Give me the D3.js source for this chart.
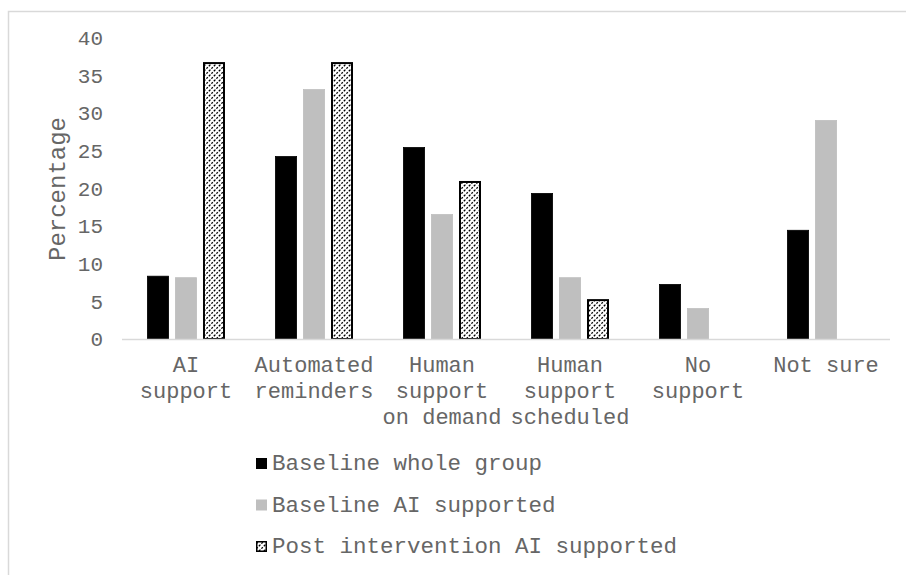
<!DOCTYPE html>
<html>
<head>
<meta charset="utf-8">
<script src="https://cdn.jsdelivr.net/npm/d3@7/dist/d3.min.js"></script>
<style>
  html, body { margin: 0; padding: 0; background: #fff; }
  svg { display: block; }
  text { font-family: "Courier New", "Liberation Mono", monospace; fill: #666666; }
</style>
</head>
<body>
<svg id="chart" width="906" height="575"></svg>
<script>
// Preferred type of support, by group (percent)
const categories = [
  ["AI", "support"],
  ["Automated", "reminders"],
  ["Human", "support", "on demand"],
  ["Human", "support", "scheduled"],
  ["No", "support"],
  ["Not sure"]
];
const seriesNames = ["Baseline whole group", "Baseline AI supported", "Post intervention AI supported"];
const baselineWhole = [8.4, 24.3, 25.5, 19.4, 7.3, 14.5];
const baselineAI = [8.2, 33.2, 16.6, 8.2, 4.1, 29.1];
const postAI = [36.8, 36.8, 21.0, 5.3, null, null];
const yTicks = [0, 5, 10, 15, 20, 25, 30, 35, 40];

const seriesValues = [baselineWhole, baselineAI, postAI];

const svg = d3.select("#chart");

// Chart frame
svg.append("rect")
  .attr("x", 8.5).attr("y", 11.5)
  .attr("width", 1000).attr("height", 1000)
  .attr("fill", "none").attr("stroke", "#d9d9d9").attr("stroke-width", 1.5);

// Dashed upward-diagonal hatch
const defs = svg.append("defs");
const pat = defs.append("pattern")
  .attr("id", "hatch")
  .attr("patternUnits", "userSpaceOnUse")
  .attr("width", 5).attr("height", 5);
pat.append("rect").attr("width", 5).attr("height", 5).attr("fill", "#fff");
pat.append("path")
  .attr("d", "M-1,6 L6,-1 M-1,1 L1,-1 M4,6 L6,4")
  .attr("stroke", "#000").attr("stroke-width", 1.3)
  .attr("stroke-dasharray", "2,1.4");

const plot = { left: 122, right: 890, top: 38, bottom: 339 };

const x0 = d3.scaleBand()
  .domain(d3.range(categories.length))
  .range([plot.left, plot.right])
  .padding(0);

const bw = x0.bandwidth();
const x1 = d3.scaleBand()
  .domain(d3.range(seriesNames.length))
  .range([bw * 25 / 128, bw * 103 / 128])
  .paddingInner(6 / 28)
  .paddingOuter(0);

const y = d3.scaleLinear().domain([0, 40]).range([plot.bottom, plot.top]);

const fills = ["#000000", "#bfbfbf", "url(#hatch)"];
const strokes = ["#000000", "#bfbfbf", "#000000"];
const strokeW = [0.8, 0.8, 2];

// Y axis labels
const yAxis = d3.axisLeft(y).tickValues(yTicks).tickSize(0).tickPadding(19);
const gy = svg.append("g").attr("transform", `translate(${plot.left},0)`).call(yAxis);
gy.select(".domain").remove();
gy.selectAll("text")
  .style("font-family", '"Courier New", "Liberation Mono", monospace')
  .style("font-size", "21px").attr("fill", "#666666");

// Bars
seriesValues.forEach((vals, s) => {
  svg.append("g").selectAll("rect")
    .data(vals.map((v, i) => ({ v, i })).filter(d => d.v !== null))
    .join("rect")
    .attr("x", d => x0(d.i) + x1(s) + strokeW[s] / 2)
    .attr("y", d => y(d.v) + strokeW[s] / 2)
    .attr("width", x1.bandwidth() - strokeW[s])
    .attr("height", d => y(0) - y(d.v) - strokeW[s] / 2)
    .attr("fill", fills[s])
    .attr("stroke", strokes[s])
    .attr("stroke-width", strokeW[s]);
});

// X axis line
svg.append("line")
  .attr("x1", plot.left).attr("x2", plot.right)
  .attr("y1", y(0) + 0.5).attr("y2", y(0) + 0.5)
  .attr("stroke", "#d9d9d9").attr("stroke-width", 1.5);

// Category labels
const catG = svg.append("g");
categories.forEach((lines, i) => {
  const t = catG.append("text")
    .attr("x", x0(i) + bw / 2)
    .attr("y", 372)
    .attr("text-anchor", "middle")
    .style("font-size", "22px");
  lines.forEach((ln, k) => {
    t.append("tspan")
      .attr("x", x0(i) + bw / 2)
      .attr("dy", k === 0 ? 0 : 26)
      .text(ln);
  });
});

// Y axis title
svg.append("text")
  .attr("transform", `translate(65,189) rotate(-90)`)
  .attr("text-anchor", "middle")
  .style("font-size", "24px")
  .text("Percentage");

// Legend
const legend = svg.append("g");
seriesNames.forEach((name, s) => {
  const cy = 463 + s * 41.5;
  legend.append("rect")
    .attr("x", 256 + (s === 2 ? 0.75 : 0))
    .attr("y", cy - 5 + (s === 2 ? 0.75 : 0))
    .attr("width", s === 2 ? 9.5 : 11)
    .attr("height", s === 2 ? 9.5 : 11)
    .attr("fill", fills[s])
    .attr("stroke", s === 2 ? "#000" : "none")
    .attr("stroke-width", 1.5);
  legend.append("text")
    .attr("x", 272)
    .attr("y", cy + 7)
    .style("font-size", "22.5px")
    .text(name);
});
</script>
</body>
</html>
